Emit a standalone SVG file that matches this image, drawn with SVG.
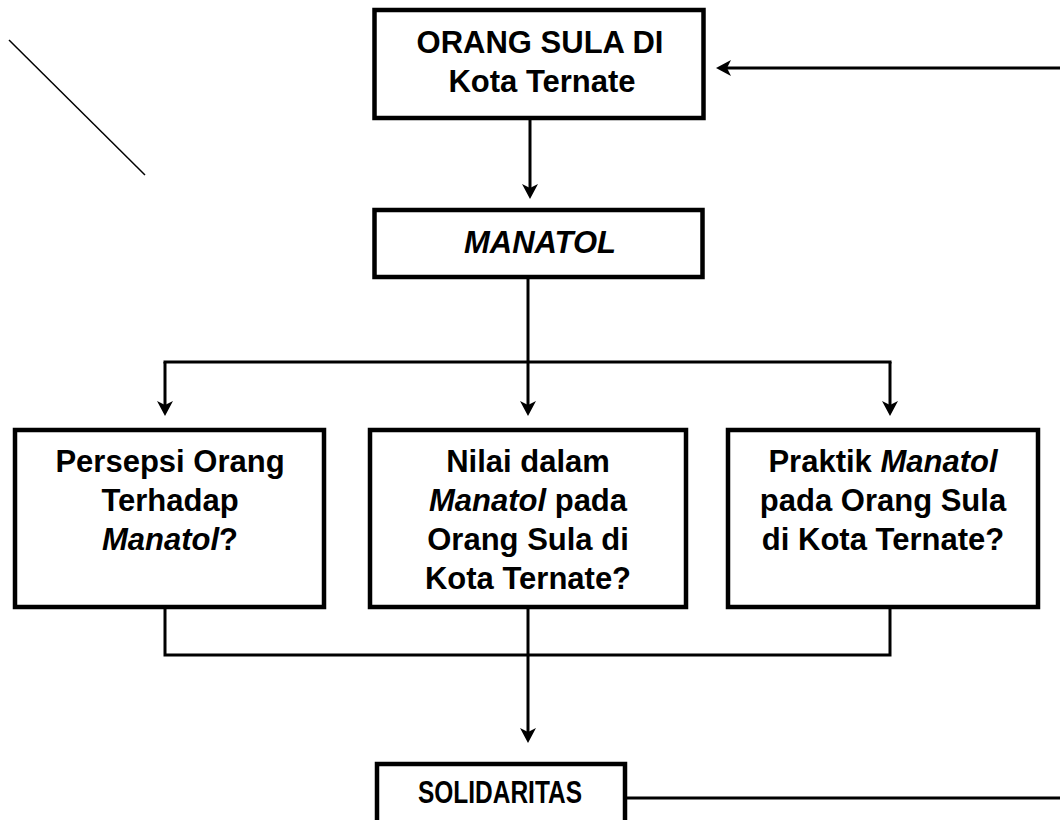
<svg xmlns="http://www.w3.org/2000/svg" width="1060" height="820" viewBox="0 0 1060 820">
<style>
.box{fill:#fff;stroke:#000;stroke-width:4.5}
.t{font-family:"Liberation Sans",Arial,sans-serif;font-weight:bold;font-size:31px;fill:#000;text-anchor:middle}
.i{font-style:italic}
.c{fill:none;stroke:#000;stroke-width:3}
</style>
<defs>
<marker id="ah" markerUnits="userSpaceOnUse" viewBox="0 0 15 16" markerWidth="15" markerHeight="16" refX="4" refY="8" orient="auto">
<path d="M0,0 L15,8 L0,16 L4,8 z" fill="#000"/>
</marker>
</defs>
<rect width="1060" height="820" fill="#fff"/>
<line x1="9" y1="40" x2="145" y2="175" stroke="#000" stroke-width="1.5"/>
<g id="connectors">
<line class="c" x1="530" y1="120" x2="530" y2="188" marker-end="url(#ah)"/>
<line class="c" x1="528" y1="279" x2="528" y2="362"/>
<line class="c" x1="163.5" y1="362" x2="891.5" y2="362"/>
<line class="c" x1="165" y1="362" x2="165" y2="405" marker-end="url(#ah)"/>
<line class="c" x1="528" y1="362" x2="528" y2="405" marker-end="url(#ah)"/>
<line class="c" x1="890" y1="362" x2="890" y2="405" marker-end="url(#ah)"/>
<polyline class="c" points="165,609 165,655 890,655 890,609"/>
<line class="c" x1="528" y1="609" x2="528" y2="732" marker-end="url(#ah)"/>
<line class="c" x1="1060" y1="68" x2="727" y2="68" marker-end="url(#ah)"/>
<line class="c" x1="627" y1="798" x2="1060" y2="798"/>
</g>
<g id="n-orang">
<rect class="box" x="374.5" y="10" width="329" height="108"/>
<text class="t" x="540" y="53">ORANG SULA DI</text>
<text class="t" x="542" y="92">Kota Ternate</text>
</g>
<g id="n-manatol">
<rect class="box" x="374.5" y="210" width="328" height="67"/>
<text class="t i" x="540" y="253">MANATOL</text>
</g>
<g id="n-persepsi">
<rect class="box" x="15" y="430" width="309" height="177"/>
<text class="t" x="170" y="472">Persepsi Orang</text>
<text class="t" x="170" y="511">Terhadap</text>
<text class="t" x="170" y="550"><tspan class="i">Manatol</tspan>?</text>
</g>
<g id="n-nilai">
<rect class="box" x="370" y="430" width="316" height="177"/>
<text class="t" x="528" y="472">Nilai dalam</text>
<text class="t" x="528" y="511"><tspan class="i">Manatol</tspan> pada</text>
<text class="t" x="528" y="550">Orang Sula di</text>
<text class="t" x="528" y="589">Kota Ternate?</text>
</g>
<g id="n-praktik">
<rect class="box" x="728" y="430" width="310" height="177"/>
<text class="t" x="883" y="472">Praktik <tspan class="i">Manatol</tspan></text>
<text class="t" x="883" y="511">pada Orang Sula</text>
<text class="t" x="883" y="550">di Kota Ternate?</text>
</g>
<g id="n-solidaritas">
<rect class="box" x="377" y="764" width="248" height="80"/>
<text class="t" x="500" y="803" textLength="164" lengthAdjust="spacingAndGlyphs">SOLIDARITAS</text>
</g>
</svg>
